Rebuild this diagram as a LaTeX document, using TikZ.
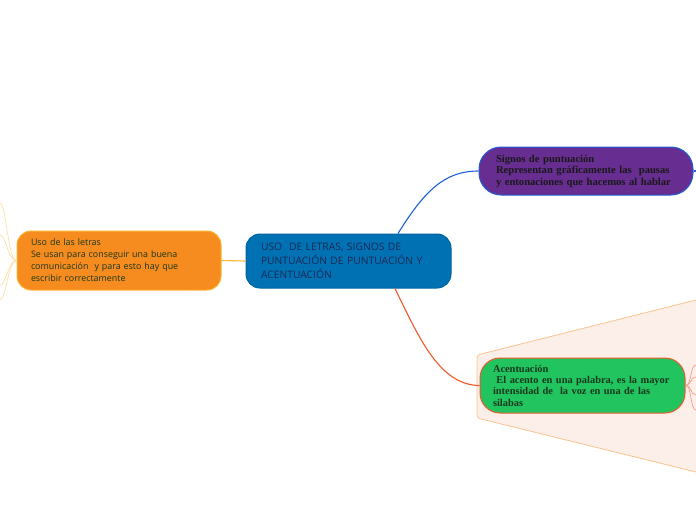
\documentclass[tikz,border=0pt]{standalone}
\usepackage{fontspec}
\setmainfont{Liberation Serif}
\newfontfamily\opensans{Open Sans}
\usetikzlibrary{calc}

\definecolor{centralblue}{RGB}{0,114,180}
\definecolor{centralline}{RGB}{0,98,160}
\definecolor{navytext}{RGB}{28,40,82}
\definecolor{letrasorange}{RGB}{246,139,31}
\definecolor{letrasline}{RGB}{250,182,50}
\definecolor{greentext}{RGB}{24,56,28}
\definecolor{signospurple}{RGB}{103,45,145}
\definecolor{linkblue}{RGB}{30,95,215}
\definecolor{acentogreen}{RGB}{34,196,96}
\definecolor{linkred}{RGB}{240,88,42}
\definecolor{paleshade}{RGB}{252,239,234}
\definecolor{paleedge}{RGB}{251,196,140}
\definecolor{fanyellow}{RGB}{253,217,155}
\definecolor{fansalmon}{RGB}{244,150,125}

\begin{document}
\begin{tikzpicture}[x=1pt, y=-1pt,
    topic/.style={draw, line width=1pt, align=left, inner ysep=2pt},
    link/.style={line width=1.1pt},
    fan/.style={line width=0.6pt}]
    \useasboundingbox (0,0) rectangle (696,520);

    % sombra de la rama de acentuacion
    \draw[paleedge, fill=paleshade, rounded corners=3pt, line width=0.8pt]
        (696,300) -- (477,355) -- (477,418) -- (696,472);

    \node[topic, fill=centralblue, draw=centralline, rounded corners=14pt,
          minimum width=205pt, minimum height=54pt, text width=175pt,
          text=navytext, font=\opensans\fontsize{10.3}{14}\selectfont]
        (central) at (348.5,261)
        {USO\ \ DE LETRAS, SIGNOS DE\\PUNTUACIÓN DE PUNTUACIÓN Y\\ACENTUACIÓN};

    \node[topic, fill=letrasorange, draw=letrasline, rounded corners=14pt,
          minimum width=204pt, minimum height=59pt, text width=176pt,
          text=greentext, font=\opensans\fontsize{8.9}{12}\selectfont]
        (letras) at (119,260.5)
        {Uso de las letras\\Se usan para conseguir una buena\\comunicación\ \ y para esto hay que\\escribir correctamente};

    \node[topic, fill=signospurple, draw=linkblue, rounded corners=22pt,
          minimum width=214pt, minimum height=48pt, text width=180pt,
          text=black!90, font=\bfseries\fontsize{10.6}{11.5}\selectfont]
        (signos) at (586,171)
        {Signos de puntuación\\Representan gráficamente las\ \ pausas\\y entonaciones que hacemos al hablar};

    \node[topic, fill=acentogreen, draw=linkred, rounded corners=20pt,
          minimum width=205pt, minimum height=55pt, text width=179pt,
          text=greentext, font=\bfseries\fontsize{10.4}{11.3}\selectfont]
        (acento) at (582.5,385.5)
        {Acentuación\\\ El acento en una palabra, es la mayor\\intensidad de\ \ la voz en una de las\\silabas};

    % ramas
    \draw[link, letrasline] (central.west) -- (letras.east);
    \draw[link, linkblue] ([xshift=49.5pt]central.north)
        .. controls (425,190) and (445,171) .. (signos.west);
    \draw[link, linkred] ([xshift=46.5pt]central.south)
        .. controls (420,340) and (440,385) .. (acento.west);

    % hojas fuera del cuadro
    \coordinate (signosend) at (696,171);
    \draw[link, linkblue] (signos.east) -- (signosend);

    \foreach \y in {365,377,395,410}
        \draw[fan, fansalmon] (acento.east) .. controls (692,385) and (690,\y) .. (696,\y);
    \foreach \y in {203,235,285,300}
        \draw[fan, fanyellow] (letras.west) .. controls (8,261) and (6,\y) .. (0,\y);
\end{tikzpicture}
\end{document}
